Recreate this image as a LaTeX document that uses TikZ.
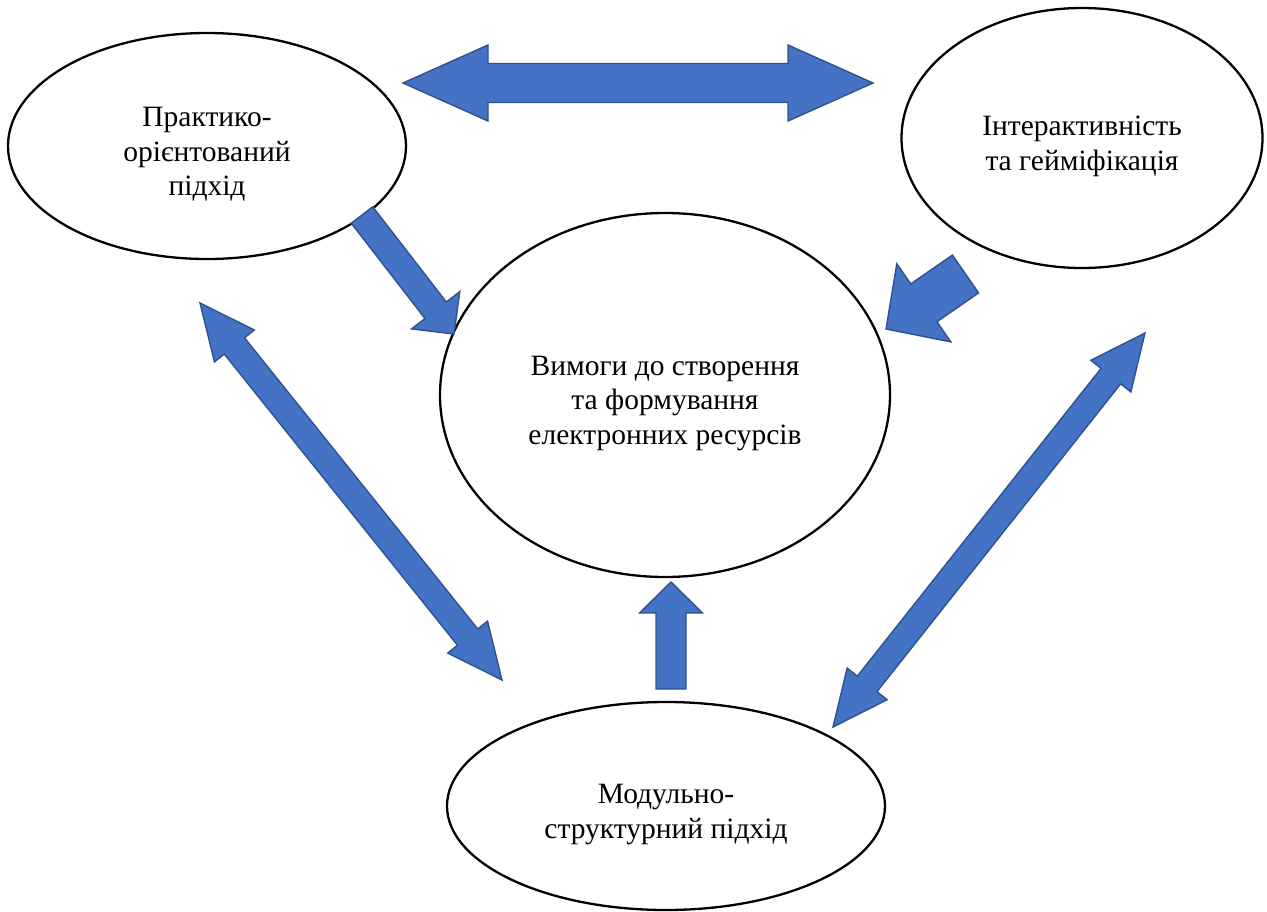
\documentclass[tikz,border=0pt]{standalone}
\usepackage{fontspec}
\setmainfont{Liberation Serif}
\usetikzlibrary{calc,shapes.geometric}
\definecolor{arfill}{HTML}{4472C4}
\definecolor{arline}{HTML}{2F528F}
\newcommand{\lift}{\rule{0pt}{36pt}}
\tikzset{
  idea/.style={ellipse,draw=black,fill=white,line width=2.3pt,inner sep=0pt,align=center,
    font=\fontsize{29.5}{34.5}\selectfont},
  barrow/.style={draw=arline,fill=arfill,line width=1.4pt,line join=miter},
}
% block arrow: tail, tip, half shaft, half head, head length
\newcommand{\blockarrow}[5]{%
  \coordinate (hb) at ($(#2)!#5!(#1)$);
  \draw[barrow] ($(#1)!#3!90:(#2)$) -- ($(hb)!#3!-90:(#1)$) -- ($(hb)!#4!-90:(#1)$) -- (#2)
    -- ($(hb)!#4!90:(#1)$) -- ($(hb)!#3!90:(#1)$) -- ($(#1)!#3!-90:(#2)$) -- cycle;
}
% two-headed block arrow
\newcommand{\dblockarrow}[5]{%
  \coordinate (hbA) at ($(#1)!#5!(#2)$);
  \coordinate (hbB) at ($(#2)!#5!(#1)$);
  \draw[barrow] (#1) -- ($(hbA)!#4!-90:(#2)$) -- ($(hbA)!#3!-90:(#2)$) -- ($(hbB)!#3!90:(#1)$)
    -- ($(hbB)!#4!90:(#1)$) -- (#2) -- ($(hbB)!#4!-90:(#1)$) -- ($(hbB)!#3!-90:(#1)$)
    -- ($(hbA)!#3!90:(#2)$) -- ($(hbA)!#4!90:(#2)$) -- cycle;
}

\begin{document}
\begin{tikzpicture}[x=1pt,y=-1pt]
  \useasboundingbox[fill=white] (0,0) rectangle (1267,911);
  \node[idea,minimum width=398pt,minimum height=226pt] (prakt) at (207,146) {\lift Практико-\\орієнтований\\підхід};
  \node[idea,minimum width=361pt,minimum height=260pt] (inter) at (1082,138) {\lift Інтерактивність\\та гейміфікація};
  \node[idea,minimum width=450pt,minimum height=364pt] (vymohy) at (665,395) {\lift Вимоги до створення\\та формування\\електронних ресурсів};
  \node[idea,minimum width=438pt,minimum height=208pt] (modul) at (666,806) {\lift Модульно-\\структурний підхід};
  % arrow ends
  \coordinate (piA) at (403,83);   \coordinate (piB) at (873,83);
  \coordinate (pvT) at (362,215);  \coordinate (pvH) at (454,334);
  \coordinate (ivT) at (965.5,274);\coordinate (ivH) at (886,329);
  \coordinate (pmA) at (200,303);  \coordinate (pmB) at (502,680);
  \coordinate (imA) at (1145,333); \coordinate (imB) at (833,727);
  \coordinate (mvT) at (671,689);  \coordinate (mvH) at (671,582);
  \dblockarrow{piA}{piB}{19.5pt}{38pt}{85pt}
  \blockarrow{pvT}{pvH}{13.5pt}{30.5pt}{30pt}
  \blockarrow{ivT}{ivH}{23pt}{47.5pt}{46pt}
  \dblockarrow{pmA}{pmB}{13pt}{25.5pt}{55pt}
  \dblockarrow{imA}{imB}{12.5pt}{25.5pt}{55pt}
  \blockarrow{mvT}{mvH}{15pt}{31.5pt}{31pt}
\end{tikzpicture}
\end{document}
